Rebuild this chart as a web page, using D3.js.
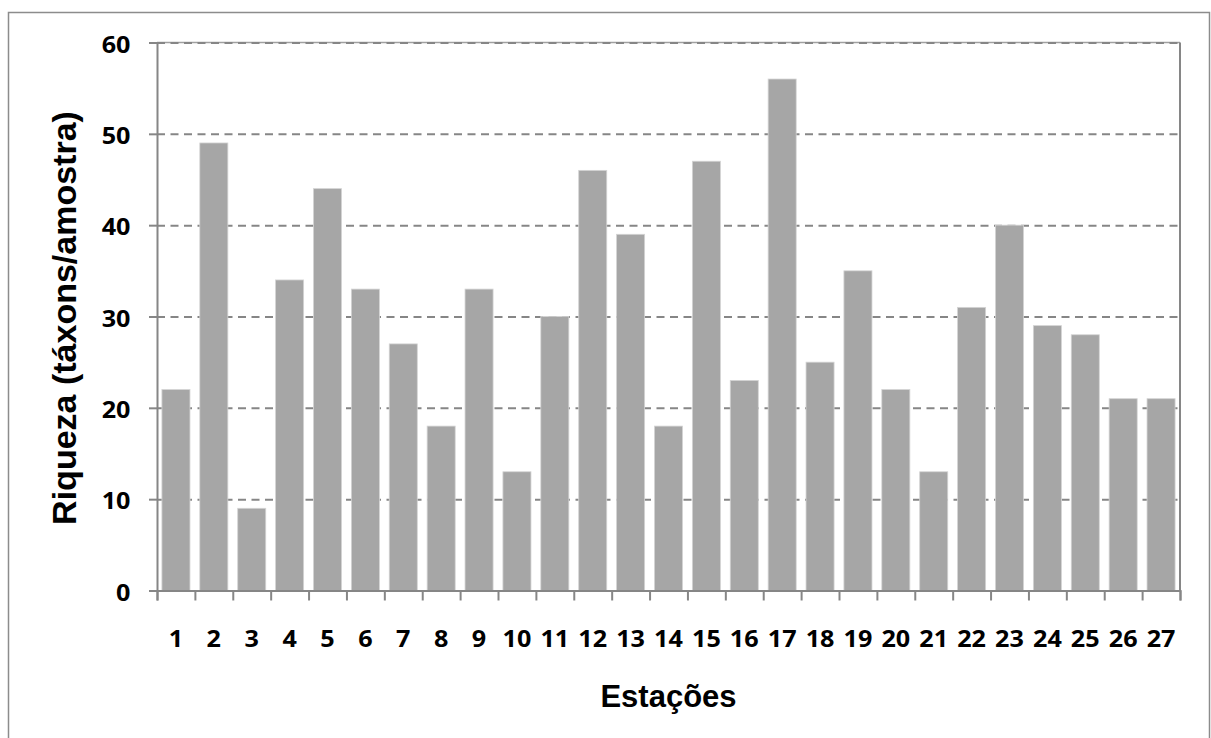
<!DOCTYPE html>
<html>
<head>
<meta charset="utf-8">
<script src="https://cdn.jsdelivr.net/npm/d3@7"></script>
<style>
  html, body { margin: 0; padding: 0; background: #fff; }
  svg { display: block; }
</style>
</head>
<body>
<svg id="chart" width="1211" height="738"></svg>
<script>
const categories = ["1","2","3","4","5","6","7","8","9","10","11","12","13","14","15","16","17","18","19","20","21","22","23","24","25","26","27"];
const riqueza = [22,49,9,34,44,33,27,18,33,13,30,46,39,18,47,23,56,25,35,22,13,31,40,29,28,21,21];
const yTicks = [0,10,20,30,40,50,60];
const xTitle = "Estações";
const yTitle = "Riqueza (táxons/amostra)";

const pLeft = 157, pRight = 1180, pTop = 42.5, pBottom = 590.5;
const svg = d3.select("#chart");
const gridColor = "#868686";
const sx = 1.12;
const tickFont = "'Open Sans', Lato, sans-serif";
const tickSizePx = 22.5;

// outer chart border
svg.append("rect").attr("x", 8.5).attr("y", 12.5).attr("width", 1201).attr("height", 740)
  .attr("fill", "none").attr("stroke", "#8c8c8c").attr("stroke-width", 1.5);

const x = d3.scaleBand().domain(categories).range([pLeft, pRight]).paddingInner(0.26).paddingOuter(0.13);
const xEdge = d3.scaleLinear().domain([0, categories.length]).range([pLeft, pRight]);
const y = d3.scaleLinear().domain([0, 60]).range([pBottom, pTop]);

// plot frame (top + right)
svg.append("line").attr("x1", pLeft).attr("x2", pRight).attr("y1", pTop).attr("y2", pTop)
  .attr("stroke", "#a0a0a0").attr("stroke-width", 1.5);
svg.append("line").attr("x1", pRight).attr("x2", pRight).attr("y1", pTop).attr("y2", pBottom)
  .attr("stroke", gridColor).attr("stroke-width", 2);

// gridlines
const grid = svg.append("g").attr("transform", `translate(${pLeft},0)`)
  .call(d3.axisLeft(y).tickValues(yTicks.filter(d => d > 0)).tickSize(-(pRight - pLeft)).tickFormat(""));
grid.select(".domain").remove();
grid.selectAll("line").attr("stroke", gridColor).attr("stroke-width", 2).attr("stroke-dasharray", "8,5.5");

// bars
svg.append("g").selectAll("rect").data(riqueza).join("rect")
  .attr("x", (d, i) => x(categories[i]))
  .attr("width", x.bandwidth())
  .attr("y", d => y(d))
  .attr("height", d => y(0) - y(d))
  .attr("fill", "#a6a6a6")
  .attr("stroke", "#d4d4d4").attr("stroke-width", 0.8);

// y axis
const yAxis = svg.append("g").attr("transform", `translate(${pLeft},0)`)
  .call(d3.axisLeft(y).tickValues(yTicks).tickSize(8));
yAxis.select(".domain").attr("stroke", gridColor).attr("stroke-width", 2);
yAxis.selectAll("line").attr("stroke", gridColor).attr("stroke-width", 2);
yAxis.selectAll("text")
  .attr("x", -26.5 / sx).attr("dy", 9.5)
  .attr("transform", `scale(${sx},1)`)
  .attr("font-family", tickFont).attr("font-weight", 700)
  .attr("font-size", tickSizePx).attr("fill", "#000");

// x axis tick marks at category edges
const xTickAxis = svg.append("g").attr("transform", `translate(0,${pBottom})`)
  .call(d3.axisBottom(xEdge).tickValues(d3.range(0, categories.length + 1)).tickSize(10).tickFormat(""));
xTickAxis.select(".domain").attr("stroke", gridColor).attr("stroke-width", 2);
xTickAxis.selectAll("line").attr("stroke", gridColor).attr("stroke-width", 2);

// x axis labels
const xLab = svg.append("g").attr("transform", `translate(0,${pBottom})`)
  .call(d3.axisBottom(x).tickSize(0).tickPadding(0));
xLab.select(".domain").remove();
xLab.selectAll("text")
  .attr("font-family", tickFont).attr("font-weight", 700)
  .attr("font-size", tickSizePx).attr("fill", "#000");
xLab.selectAll(".tick").each(function(d) {
  const t = d3.select(this);
  const cx = x(d) + x.bandwidth() / 2;
  t.attr("transform", null);
  t.select("text").attr("x", cx / sx).attr("y", 56.5).attr("dy", 0)
    .attr("transform", `scale(${sx},1)`);
});

// axis titles
svg.append("text")
  .attr("transform", `translate(${(pLeft + pRight) / 2},707)`)
  .attr("text-anchor", "middle")
  .attr("font-family", "'Liberation Sans', Arial, sans-serif").attr("font-weight", "bold")
  .attr("font-size", 31).attr("fill", "#000")
  .text(xTitle);

svg.append("text")
  .attr("transform", `translate(76,318) rotate(-90)`)
  .attr("text-anchor", "middle")
  .attr("font-family", "'Liberation Sans', Arial, sans-serif").attr("font-weight", "bold")
  .attr("font-size", 34).attr("fill", "#000")
  .text(yTitle);
</script>
</body>
</html>
